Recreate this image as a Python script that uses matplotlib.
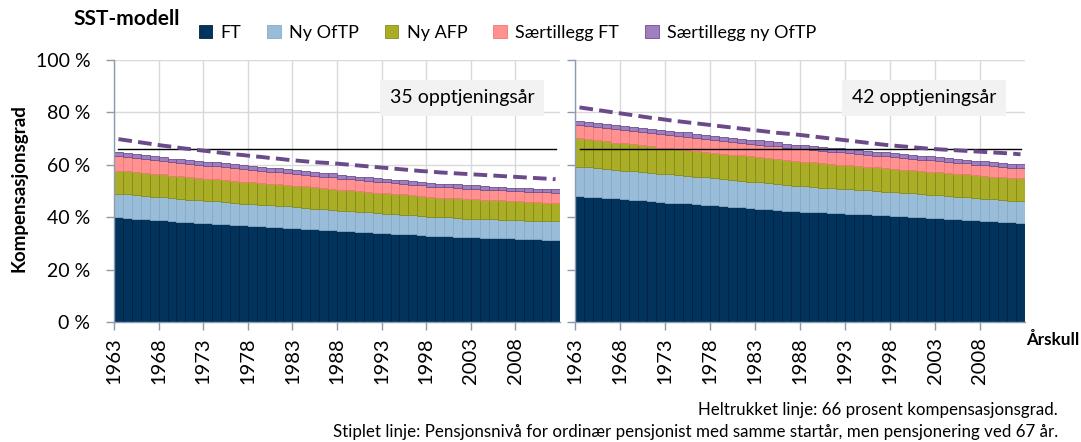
import numpy as np
import matplotlib
matplotlib.use("Agg")
import matplotlib.pyplot as plt

plt.rcParams['font.family'] = ['Lato', 'DejaVu Sans']

years = list(range(1963, 2013))
tick_years = [1963, 1968, 1973, 1978, 1983, 1988, 1993, 1998, 2003, 2008]
series_names = ['FT', 'Ny OfTP', 'Ny AFP', 'Særtillegg FT', 'Særtillegg ny OfTP']
colors = ['#02335c', '#99bdd8', '#a9ae26', '#ff9191', '#a07fbf']
edges = ['#01223f', '#86aac6', '#868a17', '#f07878', '#6c4e8e']

# 35 opptjeningsår (venstre panel), prosent
ft_35 = [40.0, 39.7, 39.5, 39.2, 39.0, 38.8, 38.5, 38.3, 38.1, 37.9,
         37.7, 37.5, 37.3, 37.1, 36.9, 36.7, 36.5, 36.3, 36.2, 36.0,
         35.8, 35.6, 35.4, 35.2, 35.0, 34.8, 34.6, 34.4, 34.3, 34.1,
         33.9, 33.7, 33.6, 33.4, 33.2, 33.0, 32.8, 32.7, 32.6, 32.4,
         32.3, 32.2, 32.1, 32.0, 31.9, 31.8, 31.6, 31.5, 31.4, 31.3]
oftp_35 = [9.0, 9.0, 8.9, 8.9, 8.8, 8.8, 8.7, 8.7, 8.6, 8.6,
           8.5, 8.5, 8.4, 8.4, 8.3, 8.3, 8.2, 8.2, 8.1, 8.1,
           8.0, 8.0, 7.9, 7.8, 7.8, 7.7, 7.7, 7.6, 7.6, 7.5,
           7.5, 7.4, 7.4, 7.3, 7.3, 7.2, 7.2, 7.2, 7.2, 7.1,
           7.1, 7.1, 7.1, 7.1, 7.1, 7.1, 7.1, 7.1, 7.1, 7.1]
afp_35 = [8.8, 8.8, 8.8, 8.7, 8.7, 8.7, 8.6, 8.6, 8.6, 8.6,
          8.5, 8.5, 8.5, 8.5, 8.4, 8.4, 8.4, 8.3, 8.3, 8.3,
          8.2, 8.2, 8.2, 8.1, 8.1, 8.0, 8.0, 7.9, 7.9, 7.8,
          7.8, 7.7, 7.7, 7.6, 7.6, 7.5, 7.5, 7.5, 7.4, 7.4,
          7.4, 7.3, 7.3, 7.3, 7.2, 7.2, 7.2, 7.1, 7.1, 7.1]
sft_35 = [5.4, 5.4, 5.3, 5.3, 5.2, 5.2, 5.1, 5.1, 5.0, 5.0,
          4.9, 4.9, 4.8, 4.8, 4.7, 4.7, 4.6, 4.6, 4.5, 4.5,
          4.4, 4.4, 4.3, 4.3, 4.3, 4.2, 4.2, 4.2, 4.2, 4.1,
          4.1, 4.1, 4.1, 4.1, 4.0, 4.0, 4.0, 4.0, 4.0, 4.0,
          4.0, 3.9, 3.9, 3.9, 3.9, 3.9, 3.9, 3.9, 3.9, 3.9]
softp_35 = [1.5, 1.5, 1.5, 1.5, 1.5, 1.5, 1.5, 1.5, 1.5, 1.5,
            1.5, 1.5, 1.5, 1.5, 1.5, 1.5, 1.5, 1.5, 1.5, 1.5,
            1.5, 1.5, 1.5, 1.5, 1.5, 1.4, 1.4, 1.4, 1.4, 1.4,
            1.4, 1.4, 1.4, 1.4, 1.4, 1.3, 1.3, 1.3, 1.3, 1.3,
            1.3, 1.3, 1.3, 1.3, 1.2, 1.2, 1.2, 1.2, 1.2, 1.2]
dashed_35 = [69.8, 69.3, 68.8, 68.3, 67.8, 67.3, 66.9, 66.4, 66.0, 65.6,
             65.2, 64.8, 64.4, 64.0, 63.7, 63.3, 63.0, 62.6, 62.3, 61.9,
             61.6, 61.3, 61.0, 60.8, 60.6, 60.3, 60.0, 59.7, 59.4, 59.1,
             58.8, 58.5, 58.2, 57.9, 57.6, 57.4, 57.1, 56.9, 56.7, 56.5,
             56.3, 56.1, 55.9, 55.7, 55.5, 55.3, 55.1, 54.9, 54.7, 54.5]

# 42 opptjeningsår (høyre panel), prosent
ft_42 = [48.2, 47.9, 47.7, 47.4, 47.2, 46.9, 46.7, 46.4, 46.1, 45.8,
         45.6, 45.4, 45.3, 45.0, 44.8, 44.5, 44.3, 44.0, 43.8, 43.5,
         43.3, 43.0, 42.8, 42.5, 42.3, 42.1, 42.0, 41.8, 41.7, 41.5,
         41.4, 41.2, 41.1, 40.9, 40.7, 40.6, 40.4, 40.2, 40.0, 39.8,
         39.6, 39.4, 39.2, 39.0, 38.8, 38.6, 38.4, 38.2, 38.0, 37.9]
oftp_42 = [11.1, 11.1, 11.0, 11.0, 10.9, 10.9, 10.9, 10.8, 10.8, 10.7,
           10.7, 10.6, 10.6, 10.5, 10.4, 10.4, 10.3, 10.2, 10.2, 10.1,
           10.0, 10.0, 9.9, 9.8, 9.7, 9.7, 9.6, 9.5, 9.5, 9.4,
           9.3, 9.3, 9.2, 9.1, 9.0, 9.0, 8.9, 8.9, 8.8, 8.8,
           8.7, 8.7, 8.6, 8.6, 8.5, 8.5, 8.4, 8.4, 8.3, 8.3]
afp_42 = [10.8, 10.7, 10.6, 10.5, 10.4, 10.4, 10.3, 10.2, 10.1, 10.1,
          10.0, 9.9, 9.9, 9.8, 9.8, 9.7, 9.7, 9.7, 9.6, 9.6,
          9.6, 9.5, 9.5, 9.5, 9.4, 9.4, 9.3, 9.3, 9.2, 9.2,
          9.1, 9.1, 9.0, 9.0, 9.0, 8.9, 8.9, 8.9, 8.8, 8.8,
          8.8, 8.8, 8.7, 8.7, 8.7, 8.7, 8.6, 8.6, 8.6, 8.6]
sft_42 = [5.1, 5.1, 5.1, 5.1, 5.1, 5.1, 5.1, 5.1, 5.0, 5.0,
          5.0, 5.0, 5.0, 4.9, 4.9, 4.9, 4.9, 4.9, 4.8, 4.8,
          4.8, 4.8, 4.8, 4.7, 4.7, 4.7, 4.7, 4.6, 4.6, 4.6,
          4.6, 4.5, 4.5, 4.5, 4.5, 4.4, 4.4, 4.4, 4.3, 4.3,
          4.3, 4.2, 4.2, 4.2, 4.1, 4.1, 4.1, 4.0, 4.0, 4.0]
softp_42 = [1.6, 1.6, 1.6, 1.6, 1.6, 1.6, 1.6, 1.6, 1.6, 1.6,
            1.6, 1.6, 1.6, 1.6, 1.6, 1.6, 1.6, 1.6, 1.6, 1.6,
            1.6, 1.6, 1.6, 1.6, 1.6, 1.6, 1.6, 1.6, 1.6, 1.6,
            1.5, 1.5, 1.5, 1.5, 1.5, 1.5, 1.5, 1.5, 1.5, 1.5,
            1.5, 1.5, 1.5, 1.5, 1.5, 1.5, 1.5, 1.5, 1.5, 1.5]
dashed_42 = [81.9, 81.4, 80.9, 80.4, 79.9, 79.4, 78.9, 78.4, 77.9, 77.5,
             77.0, 76.6, 76.2, 75.8, 75.4, 75.0, 74.6, 74.2, 73.8, 73.4,
             73.0, 72.6, 72.2, 71.9, 71.6, 71.2, 70.8, 70.4, 70.0, 69.6,
             69.2, 68.8, 68.4, 68.0, 67.6, 67.3, 67.0, 66.7, 66.4, 66.1,
             65.9, 65.7, 65.5, 65.3, 65.1, 64.9, 64.7, 64.5, 64.3, 64.0]

target = 66
panel_labels = ['35 opptjeningsår', '42 opptjeningsår']

fig = plt.figure(figsize=(10.81, 4.42), dpi=100)
ax1 = fig.add_axes([114 / 1081, 1 - 322 / 442, 446 / 1081, 262 / 442])
ax2 = fig.add_axes([575 / 1081, 1 - 322 / 442, 450 / 1081, 262 / 442])

axis_col = '#8c9bb0'
x = np.array(years)
panels = [(ax1, [ft_35, oftp_35, afp_35, sft_35, softp_35], dashed_35, 0.78),
          (ax2, [ft_42, oftp_42, afp_42, sft_42, softp_42], dashed_42, 0.775)]

handles = None
for (ax, stack, dashed, box_x), label in zip(panels, panel_labels):
    bottom = np.zeros(len(years))
    hs = []
    for vals, name, c, ec in zip(stack, series_names, colors, edges):
        h = ax.bar(x, vals, width=1.0, bottom=bottom, align='edge', color=c,
                   edgecolor=ec, linewidth=0.6, label=name, zorder=2)
        hs.append(h)
        bottom += np.array(vals)
    if handles is None:
        handles = hs
    ax.plot(x + 0.5, [target] * len(years), color='black', lw=1.0, zorder=3)
    ax.plot(x + 0.5, dashed, color='#6b4a8a', lw=2.8, dashes=(3.5, 1.6), zorder=3)

    ax.set_xlim(1963, 2013)
    ax.set_ylim(0, 100)
    ax.set_xticks(tick_years)
    ax.set_xticklabels([str(t) for t in tick_years], rotation=90, fontsize=14.5)
    ax.set_yticks(range(0, 101, 20))
    ax.grid(True, color='#d9d9d9', lw=1.0, zorder=0)
    ax.set_axisbelow(True)
    for s in ['top', 'right']:
        ax.spines[s].set_visible(False)
    for s in ['left', 'bottom']:
        ax.spines[s].set_color(axis_col)
        ax.spines[s].set_linewidth(1.0)
    ax.tick_params(axis='both', color=axis_col, length=6, width=1.0)
    ax.tick_params(axis='x', pad=5)
    ax.tick_params(axis='y', pad=11)
    ax.text(box_x, 0.855, label, transform=ax.transAxes, ha='center', va='center',
            fontsize=14, zorder=5,
            bbox=dict(facecolor='#f2f2f2', edgecolor='none', boxstyle='square,pad=0.5'))

ax1.set_yticklabels([f'{v} %' for v in range(0, 101, 20)], fontsize=14)
ax2.set_yticklabels([])
ax1.set_ylabel('Kompensasjonsgrad', fontsize=13.5, fontweight='bold')
ax1.yaxis.set_label_coords(-0.195, 0.51)

fig.text(73 / 1081, 1 - 19 / 442, 'SST-modell', fontsize=15, fontweight='bold',
         ha='left', va='center')
fig.legend(handles=handles, labels=series_names, loc='center left',
           bbox_to_anchor=(186 / 1081, 1 - 33 / 442), ncol=5, frameon=False,
           fontsize=13, handlelength=0.75, handleheight=0.75, handletextpad=0.45,
           columnspacing=1.45, borderpad=0.2)
fig.text(1026 / 1081, 1 - 340 / 442, 'Årskull', fontsize=12.3, fontweight='bold',
         ha='left', va='center')
fig.text(1058 / 1081, 1 - 410 / 442, 'Heltrukket linje: 66 prosent kompensasjonsgrad.',
         fontsize=12.2, ha='right', va='center')
fig.text(1058 / 1081, 1 - 432 / 442,
         'Stiplet linje: Pensjonsnivå for ordinær pensjonist med samme startår, men pensjonering ved 67 år.',
         fontsize=12.2, ha='right', va='center')

fig.savefig('out.png', dpi=100)
